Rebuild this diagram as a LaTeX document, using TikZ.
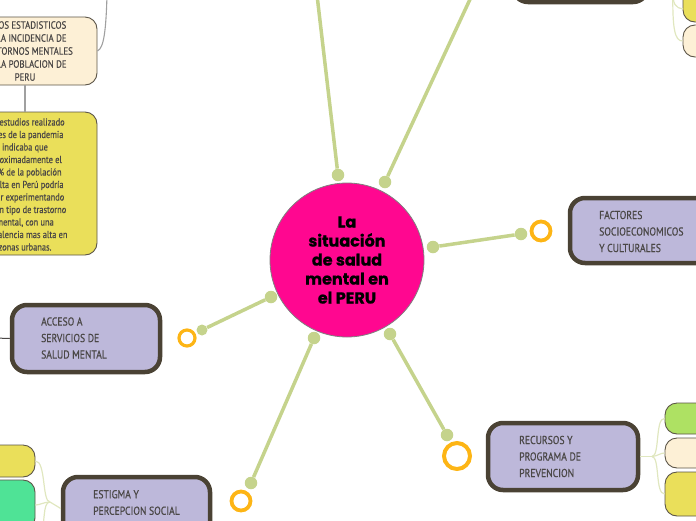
\documentclass[tikz,border=0pt]{standalone}
\usepackage{fontspec}
\setmainfont{Lato}
\newfontfamily\condfont[FakeStretch=0.84,FakeBold=0.5]{PT Sans}
\newfontfamily\titlefont[BoldFeatures={FakeBold=0.8}]{Poppins}
\definecolor{lav}{HTML}{BDB8DA}
\definecolor{bord}{HTML}{4A4234}
\definecolor{txt}{HTML}{4A4746}
\definecolor{yel}{HTML}{EADF5A}
\definecolor{crm}{HTML}{FDF0D6}
\definecolor{grA}{HTML}{AEE163}
\definecolor{grB}{HTML}{4FE396}
\definecolor{pink}{HTML}{FF0790}
\definecolor{lgreen}{HTML}{C5D38C}
\definecolor{ring}{HTML}{FDB515}
\definecolor{pale}{HTML}{E0E7BF}
\definecolor{gline}{HTML}{A0A0A0}
\tikzset{
  topic/.style={draw=bord, line width=4.5pt, fill=lav, rounded corners=15pt, inner sep=0pt},
  sub/.style={draw=bord!90, line width=0.9pt, rounded corners=12pt, inner sep=0pt},
  conn/.style={draw=lgreen, line width=3.5pt},
  dot/.style={circle, fill=lgreen, inner sep=0pt, minimum size=12.5pt},
  oring/.style={circle, draw=ring, line width=3.8pt, inner sep=0pt},
  branch/.style={draw=pale, line width=1.2pt},
  boxtxt/.style={anchor=west, align=left, inner sep=0pt, text=txt,
     font=\condfont\fontsize{11.5}{16.5}\selectfont},
}
\begin{document}
\begin{tikzpicture}[x=1pt,y=-1pt]
\useasboundingbox (0,0) rectangle (696,520);

% center
\node[circle, draw=gray, line width=0.8pt, fill=pink, minimum size=154pt, inner sep=0pt] (c) at (347,260) {};
\node[align=center, inner sep=0pt, font=\titlefont\bfseries\fontsize{16}{19}\selectfont] (ctext) at (347,260)
  {La\\situación\\de salud\\mental en\\el PERU};

% connector dots
\node[dot] (cd1) at (338,175) {};
\node[dot] (cd2) at (385,182) {};
\node[dot] (cd3) at (433,247) {};
\node[dot] (cd4) at (271,297) {};
\node[dot] (cd5) at (314,338) {};
\node[dot] (cd6) at (390,334) {};
\coordinate (t1) at (317,-5);
\coordinate (t2) at (472,-5);
\node[dot] (fd3) at (521,234) {};
\node[dot, minimum size=11pt] (fd4) at (202,330) {};
\node[dot] (fd5) at (251,483) {};
\node[dot] (fd6) at (447,435) {};

\draw[conn] (cd1) -- (t1);
\draw[conn] (cd2) -- (t2);
\draw[conn] (cd3) -- (fd3);
\draw[conn] (cd4) -- (fd4);
\draw[conn] (cd5) -- (fd5);
\draw[conn] (cd6) -- (fd6);

\node[oring, minimum size=19pt] (r3) at (541,231) {};
\node[oring, line width=3.2pt, minimum size=16pt] (r4) at (187,338) {};
\node[oring, minimum size=19pt] (r5) at (241,501) {};
\node[oring, line width=4pt, minimum size=26pt] (r6) at (457,456) {};

% topic boxes
\node[topic, minimum width=150pt, minimum height=65pt] (fac) at (645,230.5) {};
\node[boxtxt] (factxt) at (599,231.5) {FACTORES\\SOCIOECONOMICOS\\Y CULTURALES};

\node[topic, minimum width=148pt, minimum height=67pt] (acc) at (86,338.5) {};
\node[boxtxt] (acctxt) at (41,338) {ACCESO A\\SERVICIOS DE\\SALUD MENTAL};
\coordinate (accl) at (-5,338);
\draw[draw=txt, line width=1pt] (acc.west) -- (accl);

\node[topic, minimum width=150pt, minimum height=67pt] (rec) at (563,456.5) {};
\node[boxtxt] (rectxt) at (519,456.5) {RECURSOS Y\\PROGRAMA DE\\PREVENCION};

\node[topic, minimum width=147pt, minimum height=63pt] (est) at (136.5,508.5) {};
\node[boxtxt] (esttxt) at (93,502.5) {ESTIGMA Y\\PERCEPCION SOCIAL};

\node[topic, minimum width=135pt, minimum height=62pt] (ttop) at (580.5,-29) {};

% sub boxes right bottom
\node[sub, fill=grA, minimum width=60pt, minimum height=31pt] (g1) at (695,418.5) {};
\node[sub, fill=crm, minimum width=60pt, minimum height=30pt] (g2) at (695,453) {};
\node[sub, fill=yel, minimum width=60pt, minimum height=44pt] (g3) at (695,494) {};
\coordinate (recb) at (652,456.5);
\draw[branch] (rec.east) -- (recb);
\draw[branch] (recb) .. controls (660,456) and (655,418) .. (g1.west);
\draw[branch] (recb) .. controls (658,456) and (660,453) .. (g2.west);
\draw[branch] (recb) .. controls (660,457) and (655,494) .. (g3.west);

% sub boxes left bottom
\node[sub, fill=yel, minimum width=60pt, minimum height=32pt] (h1) at (5,461) {};
\node[sub, fill=grB, minimum width=60pt, minimum height=50pt] (h2) at (5,505) {};
\coordinate (estb) at (50,502);
\coordinate (estd) at (40,535);
\draw[branch] (est.west) -- (estb);
\draw[branch] (estb) .. controls (42,502) and (46,461) .. (h1.east);
\draw[branch] (estb) .. controls (44,502) and (40,505) .. (h2.east);
\draw[branch] (estb) .. controls (42,502) and (46,525) .. (estd);

% sub boxes right top
\node[sub, fill=yel, minimum width=50pt, minimum height=44pt] (k1) at (708,0) {};
\node[sub, fill=crm, minimum width=50pt, minimum height=32pt] (k2) at (708,41) {};
\coordinate (kb) at (673,-12);
\draw[branch] (kb) .. controls (672,5) and (676,8) .. (683,9);
\draw[branch] (kb) .. controls (672,30) and (675,41) .. (k2.west);

% top-left boxes
\node[sub, fill=crm, minimum width=157pt, minimum height=68pt] (dat) at (18.5,51) {};
\node[align=center, inner sep=0pt, text=txt, font=\condfont\fontsize{10.5}{13}\selectfont] (dattxt) at (25,51)
  {DATOS ESTADISTICOS\\DE LA INCIDENCIA DE\\TRASTORNOS MENTALES\\EN LA POBLACION DE\\PERU};
\coordinate (datt) at (107,-5);
\draw[draw=gline, line width=1.1pt] (datt) .. controls (106,30) and (104,48) .. (dat.east);

\node[sub, fill=yel, minimum width=157pt, minimum height=143pt] (note) at (18.5,183.5) {};
\node[align=center, inner sep=0pt, text=txt, font=\condfont\fontsize{10}{12.5}\selectfont] (notetxt) at (25,184.5)
  {Los estudios realizado\\antes de la pandemia\\indicaba que\\aproximadamente el\\20\% de la población\\adulta en Perú podría\\estar experimentando\\algún tipo de trastorno\\mental, con una\\prevalencia mas alta en\\zonas urbanas.};
\draw[draw=gline, line width=1.1pt] (dat.south -| 25,0) -- (note.north -| 25,0);
\end{tikzpicture}
\end{document}
